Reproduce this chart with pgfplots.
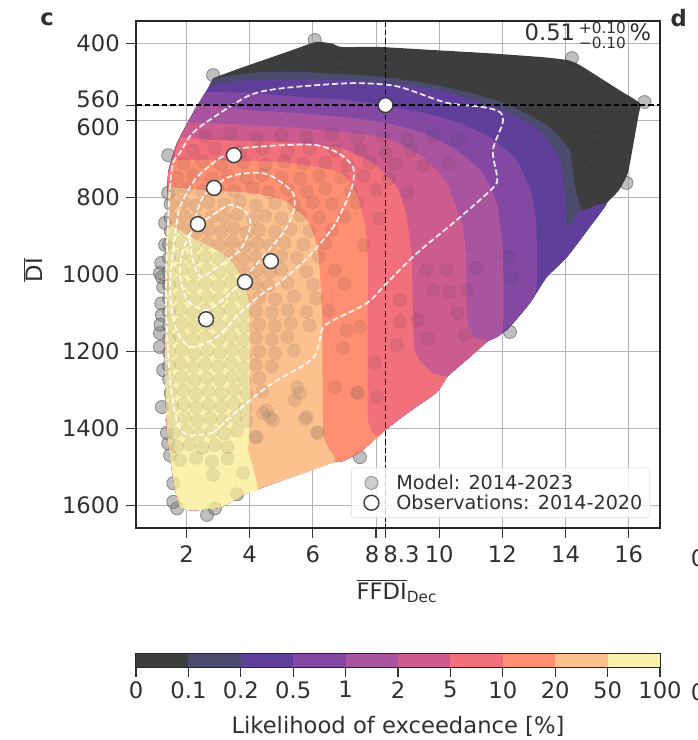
\documentclass[border=0pt]{standalone}
\usepackage{fontspec}
\setmainfont{DejaVu Sans}
\usepackage{pgfplots}
\usepackage{pgfplotstable}
\pgfplotsset{compat=1.18}
\definecolor{txt}{HTML}{303030}
\definecolor{gridc}{HTML}{B4B4B4}
\definecolor{lA}{HTML}{3D3D3D}
\definecolor{lB}{HTML}{4B4B6E}
\definecolor{lC}{HTML}{5F3F9A}
\definecolor{lD}{HTML}{8248A2}
\definecolor{lE}{HTML}{A9549E}
\definecolor{lF}{HTML}{CC5B8E}
\definecolor{lG}{HTML}{F26F7C}
\definecolor{lH}{HTML}{FF8F73}
\definecolor{lI}{HTML}{FDC08F}
\definecolor{lJ}{HTML}{FCF1AC}
\newcommand{\lab}{\fontsize{17}{19}\selectfont}
\pgfplotstableread[row sep=\\]{x y\\
6.06 391\\2.84 482\\1.42 690\\14.2 438\\16.5 552\\15.93 762\\12.24 1149\\7.49 1474\\
2.65 1624\\2.9 1607\\1.7 1607\\1.58 1590\\1.58 1542\\3.6 1570\\3.79 1515\\2.84 1520\\
1.22 1344\\1.48 1469\\1.42 1438\\1.38 1411\\1.26 1248\\1.16 1152\\1.22 1105\\1.16 1188\\1.22 1007\\1.26 1032\\1.32 923\\1.32 866\\1.42 788\\1.16 996\\1.2 970\\1.2 1075\\1.18 1130\\
12.24 495\\13.4 490\\14.55 516\\15.0 643\\15.8 638\\14.77 788\\10.87 469\\13.08 539\\13.82 547\\14.55 695\\14.77 580\\15.5 573\\5.9 442\\6.86 450\\8.76 450\\12.0 470\\14.9 705\\
9.64 1165\\10.8 1157\\10.58 1100\\7.43 1307\\8.03 1318\\7.97 1229\\8.66 1183\\8.76 1123\\6.95 1191\\9.3 1118\\10.9 1040\\11.19 983\\12.3 1008\\12.24 954\\10.34 1045\\9.8 1040\\10.24 988\\9.6 988\\8.76 1066\\7.49 1136\\7.07 1144\\
5.5 1292\\5.81 1370\\4.64 1370\\4.42 1360\\6.7 1292\\6.13 1409\\4.23 1422\\5.59 1308\\5.43 1326\\4.54 1352\\4.74 1378\\5.75 1375\\6.16 1412\\7.39 1307\\4.17 1422\\
2.6 642\\3.4 635\\4.2 646\\5.0 638\\5.8 644\\6.6 636\\7.4 645\\8.2 640\\9.0 648\\9.8 640\\10.6 650\\
2.2 678\\2.9 672\\3.7 680\\4.4 674\\5.2 682\\5.9 673\\6.7 679\\7.5 676\\8.3 684\\9.1 677\\
1.9 712\\2.5 706\\3.1 714\\3.8 708\\4.5 715\\5.1 706\\5.7 712\\6.4 709\\7.1 716\\7.8 708\\8.6 713\\9.5 718\\10.3 710\\
1.7 748\\2.2 742\\2.8 750\\3.3 744\\3.9 749\\4.4 741\\5.0 747\\5.6 751\\6.2 743\\6.9 748\\7.6 744\\8.4 752\\
1.6 782\\2.0 776\\2.5 785\\3.0 779\\3.5 783\\4.1 775\\4.6 786\\5.2 778\\5.8 784\\6.4 777\\7.2 783\\8.0 780\\9.0 786\\
1.5 817\\1.9 811\\2.3 820\\2.7 813\\3.2 818\\3.7 810\\4.2 821\\4.8 814\\5.4 819\\6.0 812\\6.6 817\\7.4 813\\
1.5 852\\1.9 846\\2.3 855\\2.8 849\\3.2 853\\3.6 845\\4.1 856\\4.5 848\\5.0 854\\5.6 847\\6.2 852\\7.0 849\\8.1 855\\
1.5 887\\1.9 881\\2.3 890\\2.7 883\\3.1 888\\3.5 880\\3.9 891\\4.3 884\\4.8 889\\5.3 882\\5.9 887\\6.6 884\\
1.45 922\\1.85 916\\2.25 925\\2.65 918\\3.05 923\\3.45 915\\3.85 926\\4.25 919\\4.65 924\\5.1 917\\5.7 922\\6.4 919\\7.6 925\\
1.45 957\\1.8 951\\2.2 960\\2.6 953\\3.0 958\\3.4 950\\3.8 961\\4.2 954\\4.6 959\\5.0 952\\5.5 957\\6.2 954\\
1.45 992\\1.85 986\\2.25 995\\2.65 988\\3.05 993\\3.45 985\\3.85 996\\4.25 989\\4.65 994\\5.0 987\\5.8 992\\6.7 989\\
1.45 1027\\1.8 1021\\2.2 1030\\2.6 1023\\3.0 1028\\3.4 1020\\3.8 1031\\4.2 1024\\4.6 1029\\5.2 1022\\6.0 1027\\7.0 1024\\
1.45 1062\\1.85 1056\\2.25 1065\\2.65 1058\\3.05 1063\\3.45 1055\\3.85 1066\\4.3 1059\\4.8 1064\\5.4 1057\\6.1 1062\\
1.45 1097\\1.8 1091\\2.2 1100\\2.6 1093\\3.0 1098\\3.4 1090\\3.8 1101\\4.2 1094\\4.7 1099\\5.2 1092\\5.8 1097\\6.5 1094\\
1.45 1132\\1.85 1126\\2.25 1135\\2.65 1128\\3.05 1133\\3.45 1125\\3.85 1136\\4.3 1129\\4.8 1134\\5.3 1127\\5.9 1132\\
1.45 1167\\1.8 1161\\2.2 1170\\2.6 1163\\3.0 1168\\3.4 1160\\3.8 1171\\4.2 1164\\4.7 1169\\5.2 1162\\
1.45 1202\\1.85 1196\\2.25 1205\\2.65 1198\\3.05 1203\\3.45 1195\\3.85 1206\\4.3 1199\\4.8 1204\\5.4 1197\\
1.45 1237\\1.8 1231\\2.2 1240\\2.6 1233\\3.0 1238\\3.4 1230\\3.8 1241\\4.2 1234\\4.7 1239\\
1.45 1272\\1.85 1266\\2.25 1275\\2.65 1268\\3.05 1273\\3.45 1265\\3.85 1276\\4.3 1269\\
1.5 1307\\1.9 1301\\2.3 1310\\2.7 1303\\3.1 1308\\3.5 1300\\3.9 1311\\4.4 1304\\
1.55 1342\\1.9 1336\\2.3 1345\\2.7 1338\\3.1 1343\\3.5 1335\\3.85 1346\\
1.55 1377\\1.95 1371\\2.35 1380\\2.75 1373\\3.15 1378\\3.55 1370\\3.9 1381\\
1.6 1412\\2.0 1406\\2.4 1415\\2.8 1408\\3.2 1413\\3.6 1405\\
1.7 1447\\2.1 1441\\2.5 1450\\2.9 1443\\3.3 1448\\
1.8 1482\\2.3 1476\\2.8 1485\\3.3 1478\\
}\modelpts
\begin{document}
\begin{tikzpicture}
\path[use as bounding box] (0,0) rectangle (523.5pt,555pt);
\clip (0,0) rectangle (523.5pt,555pt);
\node[anchor=center,font=\fontsize{17}{20}\selectfont\bfseries,text=txt] at (35.25pt,540.5pt) {c};
\node[anchor=center,font=\fontsize{17}{20}\selectfont\bfseries,text=txt] at (509pt,541.5pt) {d};
\node[anchor=center,font=\lab,text=txt] at (523.5pt,136.5pt) {0};
\node[anchor=center,font=\lab,text=txt] at (523.5pt,35.5pt) {0};
\begin{axis}[
  at={(102pt,159pt)},anchor=south west,
  scale only axis,width=393pt,height=380.25pt,
  xmin=0.40,xmax=16.99,ymin=341.6,ymax=1658,y dir=reverse,
  axis line style={line width=1.1pt,color=black!85},
  xtick={2,4,6,8,8.3,10,12,14,16},
  xticklabels={2,4,6,{8\hspace*{6pt}},{\hspace*{24pt}8.3},10,12,14,16},
  ytick={400,560,600,800,1000,1200,1400,1600},
  yticklabels={400,{\raisebox{3.5pt}[11.25pt][0pt]{560}},{\raisebox{-5.25pt}[11.25pt][0pt]{600}},800,1000,1200,1400,1600},
  tick pos=left,tick align=outside,major tick length=7.2pt,
  tick style={line width=0.9pt,color=black!80},
  tick label style={font=\lab,text=txt},
  xticklabel style={yshift=-2.5pt},
  yticklabel style={xshift=-1.5pt},
  grid=major,grid style={line width=0.8pt,color=gridc},
  xlabel={$\overline{\mbox{FFDI}}_{\mbox{\fontsize{11.5}{13}\selectfont Dec}}$},
  ylabel={$\overline{\mbox{DI}}$},
  every axis x label/.style={at={(axis description cs:0.498,-0.125)},anchor=center,font=\lab,text=txt},
  every axis y label/.style={at={(axis description cs:-0.196,0.509)},anchor=center,rotate=90,font=\lab,text=txt},
  legend style={at={(axis description cs:0.981,0.0197)},anchor=south east,draw=black!15,fill=white,fill opacity=0.8,text opacity=1,rounded corners=2pt,font=\fontsize{14.4}{15}\selectfont,text=txt,inner xsep=9.5pt,inner ysep=3pt,row sep=-1.5pt,/tikz/every odd column/.append style={column sep=11pt}},
  legend cell align=left,
  clip=true,clip marker paths=true,
  fillL/.style={draw=none,smooth,tension=0.3},
  dashW/.style={color=white,opacity=0.9,line width=1.3pt,dash pattern=on 4.5pt off 2.2pt,smooth,tension=0.5},
]
% model members, under the filled bands
\addplot[only marks,mark=*,mark size=4.9pt,mark options={fill=black!35,draw=black!55,fill opacity=0.55,draw opacity=0.7,line width=0.6pt}] table[x=x,y=y] {\modelpts};
\addlegendentry{Model: 2014-2023}
% likelihood bands
\addplot[fillL,fill=lA,forget plot] coordinates {(2.84,490)(3.7,464)(5.18,422)(6.1,396)(6.6,400)(6.9,409)(8.1,409)(9.8,417)(11.5,425)(13.2,435)(14.05,443)(14.45,456)(15.7,521)(16.35,555)(16.3,590)(16.13,669)(15.97,737)(15.7,780)(15.3,815)(14.77,876)(14.04,955)(13.4,1007)(12.87,1074)(12.14,1144)(11.5,1175)(10.97,1214)(10.24,1266)(9.93,1305)(8.98,1360)(8.28,1404)(7.49,1461)(6.86,1487)(6.64,1487)(4.33,1555)(3.9,1568)(3.06,1605)(2.2,1612)(1.8,1605)(1.63,1553)(1.48,1475)(1.38,1404)(1.32,1247)(1.32,1074)(1.32,996)(1.38,866)(1.42,736)(1.7,658)(2.2,581)(2.65,521)};
\addplot[fillL,fill=lB,forget plot] coordinates {(2.84,490)(4.33,474)(5.59,474)(6.86,479)(8.28,487)(9.71,505)(10.97,528)(12.14,557)(13.41,612)(14.13,677)(14.26,754)(14.51,832)(15.3,815)(14.77,876)(14.04,955)(13.4,1007)(12.87,1074)(12.14,1144)(11.5,1175)(10.97,1214)(10.24,1266)(9.93,1305)(8.98,1360)(8.28,1404)(7.49,1461)(6.86,1487)(6.64,1487)(4.33,1555)(3.9,1568)(3.06,1605)(2.2,1612)(1.8,1605)(1.63,1553)(1.48,1475)(1.38,1404)(1.32,1247)(1.32,1074)(1.32,996)(1.38,866)(1.42,736)(1.7,658)(2.2,581)(2.65,521)};
\addplot[fillL,fill=lC,forget plot] coordinates {(2.75,508)(4.01,495)(5.59,495)(7.17,495)(8.76,505)(10.02,521)(11.29,552)(12.55,593)(13.34,638)(13.82,703)(13.98,793)(14.04,877)(14.45,837)(15.3,815)(14.77,876)(14.04,955)(13.4,1007)(12.87,1074)(12.14,1144)(11.5,1175)(10.97,1214)(10.24,1266)(9.93,1305)(8.98,1360)(8.28,1404)(7.49,1461)(6.86,1487)(6.64,1487)(4.33,1555)(3.9,1568)(3.06,1605)(2.2,1612)(1.8,1605)(1.63,1553)(1.48,1475)(1.38,1404)(1.32,1247)(1.32,1074)(1.32,996)(1.38,866)(1.42,736)(1.7,658)(2.2,581)(2.6,526)};
\addplot[fillL,fill=lD,forget plot] coordinates {(2.6,526)(4.01,528)(5.59,539)(7.17,547)(8.31,562)(9.49,580)(10.56,604)(11.6,643)(12.45,703)(12.92,788)(13.08,877)(13.08,1040)(12.87,1074)(12.14,1144)(11.5,1175)(10.97,1214)(10.24,1266)(9.93,1305)(8.98,1360)(8.28,1404)(7.49,1461)(6.86,1487)(6.64,1487)(4.33,1555)(3.9,1568)(3.06,1605)(2.2,1612)(1.8,1605)(1.63,1553)(1.48,1475)(1.38,1404)(1.32,1247)(1.32,1074)(1.32,996)(1.38,866)(1.42,736)(1.7,658)(2.2,581)};
\addplot[fillL,fill=lE,forget plot] coordinates {(2.2,581)(2.43,558)(4.01,573)(5.59,581)(7.17,593)(8.31,606)(9.49,632)(10.56,677)(11.38,736)(11.82,814)(12.01,928)(12.01,1145)(11.5,1175)(10.97,1214)(10.24,1266)(9.93,1305)(8.98,1360)(8.28,1404)(7.49,1461)(6.86,1487)(6.64,1487)(4.33,1555)(3.9,1568)(3.06,1605)(2.2,1612)(1.8,1605)(1.63,1553)(1.48,1475)(1.38,1404)(1.32,1247)(1.32,1074)(1.32,996)(1.38,866)(1.42,736)(1.7,658)};
\addplot[fillL,fill=lF,forget plot] coordinates {(2.05,604)(4.01,612)(5.59,620)(7.17,632)(8.31,645)(9.49,695)(10.24,762)(10.75,877)(10.85,962)(10.88,1110)(11.07,1162)(11.5,1175)(10.97,1214)(10.24,1266)(9.93,1305)(8.98,1360)(8.28,1404)(7.49,1461)(6.86,1487)(6.64,1487)(4.33,1555)(3.9,1568)(3.06,1605)(2.2,1612)(1.8,1605)(1.63,1553)(1.48,1475)(1.38,1404)(1.32,1247)(1.32,1074)(1.32,996)(1.38,866)(1.42,736)(1.7,658)};
\addplot[fillL,fill=lG,forget plot] coordinates {(1.8,643)(2.96,651)(5.05,656)(6.86,671)(7.9,710)(8.66,773)(8.97,850)(9.13,962)(9.22,1196)(9.8,1256)(10.24,1266)(9.93,1305)(8.98,1360)(8.28,1404)(7.49,1461)(6.86,1487)(6.64,1487)(4.33,1555)(3.9,1568)(3.06,1605)(2.2,1612)(1.8,1605)(1.63,1553)(1.48,1475)(1.38,1404)(1.32,1247)(1.32,1074)(1.32,996)(1.38,866)(1.42,736)};
\addplot[fillL,fill=lH,forget plot] coordinates {(1.54,703)(2.96,703)(5.05,708)(6.86,734)(7.39,793)(7.65,871)(7.74,962)(7.74,1370)(8.03,1422)(8.22,1409)(7.49,1461)(6.86,1487)(6.64,1487)(4.33,1555)(3.9,1568)(3.06,1605)(2.2,1612)(1.8,1605)(1.63,1553)(1.48,1475)(1.38,1404)(1.32,1247)(1.32,1074)(1.32,996)(1.38,866)};
\addplot[fillL,fill=lI,forget plot] coordinates {(1.41,772)(2.43,780)(4.01,788)(5.05,806)(5.81,858)(6.16,936)(6.29,1110)(6.32,1404)(6.48,1448)(6.64,1487)(4.33,1555)(3.9,1568)(3.06,1605)(2.2,1612)(1.8,1605)(1.63,1553)(1.48,1475)(1.38,1404)(1.32,1247)(1.32,1074)(1.32,996)(1.38,866)};
\addplot[fillL,fill=lJ,forget plot] coordinates {(1.38,863)(2.11,902)(2.96,936)(3.44,967)(3.79,1014)(3.98,1079)(4.01,1200)(4.0,1326)(3.97,1437)(3.95,1455)(4.26,1556)(3.9,1568)(3.06,1605)(2.2,1612)(1.8,1605)(1.63,1553)(1.48,1475)(1.38,1404)(1.32,1247)(1.32,1074)(1.32,996)};
% the same members seen through the bands
\addplot[only marks,forget plot,mark=*,mark size=4.9pt,mark options={fill=black!75,draw=black,fill opacity=0.10,draw opacity=0.06,line width=0.5pt}] table[x=x,y=y] {\modelpts};
% density contours
\addplot[dashW,forget plot] coordinates {(2.84,1411)(3.91,1333)(4.74,1281)(6.0,1217)(6.29,1144)(6.54,1123)(7.71,1074)(8.28,1027)(9.3,944)(10.56,858)(11.7,775)(11.83,747)(11.7,677)(12.01,606)(11.92,578)(11.38,565)(10.24,554)(9.07,521)(8.44,508)(7.17,503)(5.05,516)(4.01,534)(2.96,586)(2.2,632)(1.79,684)(1.54,721)(1.42,858)(1.35,1066)(1.48,1274)(1.73,1391)(2.11,1417)(2.84,1411)};
\addplot[dashW,forget plot] coordinates {(3.79,671)(5.05,664)(6.13,664)(6.86,687)(7.27,721)(7.27,762)(7.08,806)(6.64,877)(5.91,949)(5.05,1014)(4.42,1048)(3.69,1100)(2.96,1162)(2.2,1188)(1.79,1162)(1.57,1110)(1.48,1022)(1.7,858)(1.89,806)(2.33,747)(2.96,703)(3.38,684)(3.79,671)};
\addplot[dashW,forget plot] coordinates {(2.2,877)(2.52,799)(3.28,749)(4.01,736)(4.64,742)(5.37,788)(5.37,840)(5.05,892)(4.42,954)(3.38,1048)(2.65,1092)(2.02,1066)(1.79,996)(1.89,936)(2.2,877)};
\addplot[dashW,forget plot] coordinates {(2.36,871)(2.74,850)(3.38,819)(3.91,840)(4.01,877)(3.69,936)(2.84,988)(2.43,1006)(2.2,962)(2.11,897)(2.36,871)};
% the two thresholds
\addplot[forget plot,black,line width=1.3pt,dash pattern=on 4.2pt off 2.2pt] coordinates {(8.3,341.6)(8.3,1658)};
\addplot[forget plot,black,line width=1.3pt,dash pattern=on 4.2pt off 2.2pt] coordinates {(0.40,560)(16.99,560)};
% observations
\addplot[only marks,mark=*,mark size=5.6pt,mark options={fill=white,draw=black!75,line width=1.1pt}] coordinates {(8.3,560)(3.5,690)(2.87,775)(2.36,869)(4.67,965)(3.85,1019)(2.62,1116)};
\addlegendentry{Observations: 2014-2020\hspace*{-6pt}}
\node[anchor=east,font=\lab,text=txt,inner sep=0pt] at (axis cs:16.72,379) {0.51\,{\fontsize{11.5}{13}\selectfont\rlap{\raisebox{5.25pt}{+0.10}}\raisebox{-6pt}{−0.10}}\,\%};
\end{axis}
\begin{axis}[
  at={(102pt,54.75pt)},anchor=south west,
  scale only axis,width=393pt,height=9.75pt,
  xmin=0,xmax=10,ymin=0,ymax=1,
  axis line style={line width=0.9pt,color=black!85},
  ytick=\empty,
  xtick={0,1,2,3,4,5,6,7,8,9,10},
  xticklabels={0,0.1,0.2,0.5,1,2,5,10,20,50,100},
  tick pos=left,tick align=outside,major tick length=7.2pt,
  tick style={line width=0.9pt,color=black!80},
  tick label style={font=\lab,text=txt},
  xlabel={Likelihood of exceedance [\%]},
  every axis x label/.style={at={(axis description cs:0.5,-4.55)},anchor=center,font=\lab,text=txt},
]
\addplot[fill=lA,draw=none] coordinates {(0,0)(1,0)(1,1)(0,1)} -- cycle;
\addplot[fill=lB,draw=none] coordinates {(1,0)(2,0)(2,1)(1,1)} -- cycle;
\addplot[fill=lC,draw=none] coordinates {(2,0)(3,0)(3,1)(2,1)} -- cycle;
\addplot[fill=lD,draw=none] coordinates {(3,0)(4,0)(4,1)(3,1)} -- cycle;
\addplot[fill=lE,draw=none] coordinates {(4,0)(5,0)(5,1)(4,1)} -- cycle;
\addplot[fill=lF,draw=none] coordinates {(5,0)(6,0)(6,1)(5,1)} -- cycle;
\addplot[fill=lG,draw=none] coordinates {(6,0)(7,0)(7,1)(6,1)} -- cycle;
\addplot[fill=lH,draw=none] coordinates {(7,0)(8,0)(8,1)(7,1)} -- cycle;
\addplot[fill=lI,draw=none] coordinates {(8,0)(9,0)(9,1)(8,1)} -- cycle;
\addplot[fill=lJ,draw=none] coordinates {(9,0)(10,0)(10,1)(9,1)} -- cycle;
\end{axis}
\end{tikzpicture}
\end{document}
